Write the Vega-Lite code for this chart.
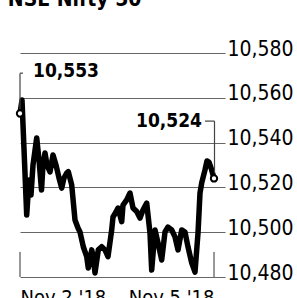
{
  "$schema": "https://vega.github.io/schema/vega-lite/v6.json",
  "width": 205,
  "height": 224,
  "autosize": {"type": "none"},
  "padding": {"left": 20, "top": 53, "right": 72, "bottom": 21},
  "background": "white",
  "config": {"view": {"stroke": null}, "font": "DejaVu Sans Condensed, Roboto, sans-serif"},
  "title": {"text": "NSE Nifty 50", "anchor": "start", "fontSize": 21, "font": "DejaVu Sans Condensed, Roboto, sans-serif", "fontWeight": "bold", "color": "black", "offset": 11, "dx": -5, "baseline": "alphabetic"},
  "datasets": {
    "series": [
      {"t": 0, "v": 10553}, {"t": 2, "v": 10559}, {"t": 6.7, "v": 10507.7}, {"t": 9, "v": 10523.3},
      {"t": 11, "v": 10516.6}, {"t": 13, "v": 10530}, {"t": 16.7, "v": 10542.1}, {"t": 19, "v": 10532.2},
      {"t": 21.5, "v": 10518.8}, {"t": 23, "v": 10530}, {"t": 25, "v": 10535.4}, {"t": 27, "v": 10530},
      {"t": 30, "v": 10526.9}, {"t": 33, "v": 10534.5}, {"t": 36, "v": 10530}, {"t": 39, "v": 10524.2},
      {"t": 41.7, "v": 10519.7}, {"t": 44, "v": 10524.2}, {"t": 46.7, "v": 10526.4}, {"t": 48.3, "v": 10527},
      {"t": 51.7, "v": 10521.1}, {"t": 55, "v": 10505.4}, {"t": 58, "v": 10501.9}, {"t": 60, "v": 10500.1},
      {"t": 63.3, "v": 10493.5}, {"t": 66.7, "v": 10489.1}, {"t": 68.3, "v": 10484}, {"t": 71.7, "v": 10492.1},
      {"t": 73, "v": 10489.8}, {"t": 75, "v": 10481.8}, {"t": 78.3, "v": 10492.1}, {"t": 81.7, "v": 10493.5},
      {"t": 85, "v": 10492.1}, {"t": 88, "v": 10489.1}, {"t": 91.7, "v": 10501}, {"t": 93, "v": 10506.8},
      {"t": 96, "v": 10509}, {"t": 98, "v": 10510.8}, {"t": 101.7, "v": 10504.7}, {"t": 103, "v": 10512.1},
      {"t": 106.7, "v": 10514.4}, {"t": 110, "v": 10517.5}, {"t": 113, "v": 10510.8}, {"t": 116.7, "v": 10509.2},
      {"t": 120, "v": 10506.3}, {"t": 123, "v": 10509.9}, {"t": 126.7, "v": 10513}, {"t": 130, "v": 10499.6},
      {"t": 131.7, "v": 10483.1}, {"t": 135, "v": 10501}, {"t": 138, "v": 10495.2}, {"t": 141.7, "v": 10487.6},
      {"t": 145, "v": 10500.1}, {"t": 148, "v": 10502.3}, {"t": 151.7, "v": 10501}, {"t": 155, "v": 10497.9},
      {"t": 158, "v": 10492.1}, {"t": 161.7, "v": 10501}, {"t": 165, "v": 10500.1}, {"t": 168, "v": 10493.4},
      {"t": 171.7, "v": 10486.3}, {"t": 175, "v": 10482.2}, {"t": 178, "v": 10499.6}, {"t": 180, "v": 10517.5},
      {"t": 181.7, "v": 10522}, {"t": 185, "v": 10527.8}, {"t": 187, "v": 10531.8}, {"t": 189, "v": 10531.3},
      {"t": 191.7, "v": 10527.8}, {"t": 194, "v": 10524}
    ],
    "ends": [{"t": 0, "v": 10553}, {"t": 194, "v": 10524}],
    "ticks": [{"t": 0, "v": 10480, "v2": 10491.2}, {"t": 194, "v": 10480, "v2": 10491.2}],
    "brackets": [
      {"t": 0, "t2": 0, "v": 10571, "v2": 10555},
      {"t": 0, "t2": 3, "v": 10571, "v2": 10571},
      {"t": 194.5, "t2": 194.5, "v": 10549.6, "v2": 10526.5},
      {"t": 185, "t2": 194.5, "v": 10549.6, "v2": 10549.6}
    ],
    "labels": [
      {"t": 13, "v": 10572, "txt": "10,553", "al": "left"},
      {"t": 182, "v": 10549.6, "txt": "10,524", "al": "right"}
    ]
  },
  "layer": [
    {
      "data": {"name": "series"},
      "mark": {"type": "line", "color": "black", "strokeWidth": 5.5, "strokeJoin": "round", "strokeCap": "round", "clip": false},
      "encoding": {
        "x": {"field": "t", "type": "quantitative", "scale": {"domain": [0, 205], "nice": false, "zero": false},
          "axis": {"values": [0, 194], "domain": false, "ticks": false, "grid": false, "title": null,
            "labelExpr": "datum.value == 0 ? \"Nov 2 '18\" : \"Nov 5 '18\"",
            "labelAlign": {"expr": "datum.value == 0 ? 'left' : 'right'"},
            "labelFontSize": 20, "labelColor": "black", "labelPadding": 10, "labelBaseline": "top", "labelFlush": false, "labelOverlap": false}},
        "y": {"field": "v", "type": "quantitative", "scale": {"domain": [10480, 10580], "nice": false, "zero": false},
          "axis": {"orient": "right", "values": [10480, 10500, 10520, 10540, 10560, 10580], "format": ",d", "domain": false, "ticks": false,
            "grid": true, "gridColor": "#666666", "gridWidth": 1, "gridOpacity": 1, "title": null,
            "labelFontSize": 21, "labelColor": "black", "labelPadding": 2, "labelBaseline": "alphabetic", "labelOffset": 2, "labelFlush": false}}
      }
    },
    {
      "data": {"name": "ticks"},
      "mark": {"type": "rule", "color": "#333333", "strokeWidth": 1},
      "encoding": {"x": {"field": "t", "type": "quantitative"}, "y": {"field": "v", "type": "quantitative"}, "y2": {"field": "v2"}}
    },
    {
      "data": {"name": "brackets"},
      "mark": {"type": "rule", "color": "#444444", "strokeWidth": 1.2},
      "encoding": {"x": {"field": "t", "type": "quantitative"}, "x2": {"field": "t2"}, "y": {"field": "v", "type": "quantitative"}, "y2": {"field": "v2"}}
    },
    {
      "data": {"name": "ends"},
      "mark": {"type": "point", "filled": true, "fill": "white", "stroke": "black", "strokeWidth": 2, "size": 40, "opacity": 1},
      "encoding": {"x": {"field": "t", "type": "quantitative"}, "y": {"field": "v", "type": "quantitative"}}
    },
    {
      "data": {"name": "labels"},
      "mark": {"type": "text", "fontSize": 19, "fontWeight": "bold", "color": "black", "baseline": "middle", "align": {"expr": "datum.al"}},
      "encoding": {"x": {"field": "t", "type": "quantitative"}, "y": {"field": "v", "type": "quantitative"}, "text": {"field": "txt"}}
    }
  ]
}
